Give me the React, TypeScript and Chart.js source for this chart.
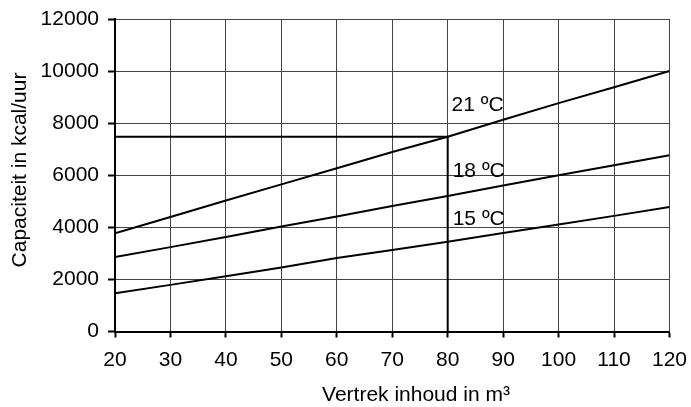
import React, { useEffect, useRef } from "react";
import { Chart, registerables } from "chart.js";

Chart.register(...registerables);

// ---- data ----
const volumes = [20, 30, 40, 50, 60, 70, 80, 90, 100, 110, 120];
const cap21 = [3770, 4400, 5030, 5650, 6270, 6890, 7480, 8130, 8770, 9380, 10000];
const cap18 = [2860, 3240, 3630, 4030, 4420, 4820, 5200, 5610, 6000, 6380, 6770];
const cap15 = [1470, 1790, 2120, 2460, 2820, 3130, 3450, 3780, 4110, 4440, 4780];
const refX = [20, 80, 80];
const refY = [7480, 7480, 0];
const seriesLabels = ["21 ºC", "18 ºC", "15 ºC"];
const labelX = [80.7, 80.9, 80.9];
const labelY = [8680, 6150, 4300];
const xTicks = [20, 30, 40, 50, 60, 70, 80, 90, 100, 110, 120];
const yTicks = [0, 2000, 4000, 6000, 8000, 10000, 12000];
const xTitle = "Vertrek inhoud in m³";
const yTitle = "Capaciteit in kcal/uur";

const FONT = '"Liberation Sans", Arial, Helvetica, sans-serif';
const FS = 21;

const toPts = (xs: number[], ys: number[]) => xs.map((x, i) => ({ x, y: ys[i] }));

const annotPlugin = {
  id: "annot",
  afterDraw(chart: any) {
    const { ctx, scales } = chart;
    const x = scales.x;
    const y = scales.y;
    ctx.save();
    ctx.font = `${FS}px ${FONT}`;
    ctx.fillStyle = "#000";
    ctx.textBaseline = "middle";
    ctx.textAlign = "left";
    seriesLabels.forEach((t, i) => {
      ctx.fillText(t, x.getPixelForValue(labelX[i]), y.getPixelForValue(labelY[i]));
    });
    ctx.textAlign = "center";
    ctx.fillText(xTitle, 416, 395);
    ctx.translate(20, 170);
    ctx.rotate(-Math.PI / 2);
    ctx.fillText(yTitle, 0, 0);
    ctx.restore();
  },
};

export default function App() {
  const ref = useRef<HTMLCanvasElement | null>(null);
  useEffect(() => {
    document.body.style.margin = "0";
    if (!ref.current) return;
    const lineStyle = {
      borderColor: "#000",
      borderWidth: 2,
      pointRadius: 0,
      fill: false,
      tension: 0,
    };
    const chart = new Chart(ref.current, {
      type: "line",
      data: {
        datasets: [
          { label: seriesLabels[0], data: toPts(volumes, cap21), ...lineStyle },
          { label: seriesLabels[1], data: toPts(volumes, cap18), ...lineStyle },
          { label: seriesLabels[2], data: toPts(volumes, cap15), ...lineStyle },
          { label: "ref", data: toPts(refX, refY), ...lineStyle },
        ],
      },
      options: {
        animation: false,
        responsive: true,
        maintainAspectRatio: false,
        layout: { padding: { top: 19, right: 21.5, left: 0, bottom: 0 } },
        plugins: { legend: { display: false }, tooltip: { enabled: false } },
        scales: {
          x: {
            type: "linear",
            min: 20,
            max: 120,
            afterBuildTicks: (s: any) => {
              s.ticks = xTicks.map((v) => ({ value: v }));
            },
            afterFit: (s: any) => {
              s.height = 75.5;
              s.paddingLeft = 0;
              s.paddingRight = 0;
            },
            ticks: {
              color: "#000",
              font: { family: FONT, size: FS },
              padding: 10,
              maxRotation: 0,
              autoSkip: false,
              callback: (v: any) => String(v),
            },
            grid: {
              color: "#444",
              lineWidth: 1,
              tickLength: 6,
              tickColor: "#000",
              tickWidth: 2,
            },
            border: { color: "#000", width: 2 },
          },
          y: {
            type: "linear",
            min: 0,
            max: 12000,
            afterBuildTicks: (s: any) => {
              s.ticks = yTicks.map((v) => ({ value: v }));
            },
            afterFit: (s: any) => {
              s.width = 115;
              s.paddingTop = 0;
              s.paddingBottom = 0;
            },
            ticks: {
              color: "#000",
              font: { family: FONT, size: FS },
              padding: 9,
              autoSkip: false,
              callback: (v: any) => String(v),
            },
            grid: {
              color: "#444",
              lineWidth: 1,
              tickLength: 7,
              tickColor: "#000",
              tickWidth: 2,
            },
            border: { color: "#000", width: 2 },
          },
        },
      },
      plugins: [annotPlugin],
    });
    return () => chart.destroy();
  }, []);
  return (
    <div style={{ position: "relative", width: 691, height: 407 }}>
      <canvas ref={ref} />
    </div>
  );
}
